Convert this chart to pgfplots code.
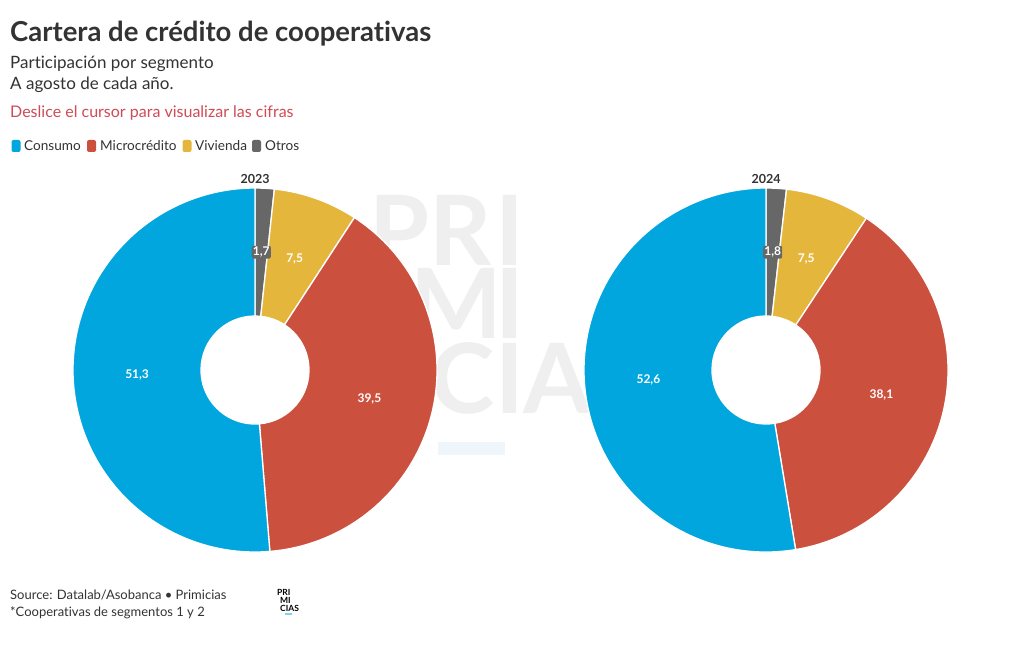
\documentclass[border=0pt]{standalone}
\usepackage{pgfplots}
\pgfplotsset{compat=1.18}
\usepackage{pgfplotstable}
\usepackage{fontspec}
\setmainfont{Lato}[Ligatures=NoCommon]

\definecolor{consumo}{HTML}{00A6DD}
\definecolor{micro}{HTML}{CB503E}
\definecolor{vivienda}{HTML}{E4B63C}
\definecolor{otros}{HTML}{676767}
\definecolor{txt}{HTML}{333333}
\definecolor{hint}{HTML}{CF4B55}
\definecolor{wm}{HTML}{EFEFEF}
\definecolor{wmbar}{HTML}{EEF5FB}

% share of each segment (%), clockwise from the top
\pgfplotstableread{
name value col
Otros 1.7 otros
Vivienda 7.5 vivienda
Microcredito 39.5 micro
Consumo 51.3 consumo
}\yeara
\pgfplotstableread{
name value col
Otros 1.8 otros
Vivienda 7.5 vivienda
Microcredito 38.1 micro
Consumo 52.6 consumo
}\yearb

\pgfkeys{/pgf/number format/.cd, use comma, fixed, precision=1, fixed zerofill, assume math mode=true}

\newcommand\donut[1]{%
  \def\acc{0}%
  \pgfplotsforeachungrouped \wi in {0,1,2,3}{%
    \pgfplotstablegetelem{\wi}{value}\of{#1}\let\wval\pgfplotsretval
    \pgfplotstablegetelem{\wi}{col}\of{#1}\let\wcol\pgfplotsretval
    \pgfmathsetmacro\as{90-3.6*\acc}%
    \pgfmathsetmacro\ae{90-3.6*(\acc+\wval)}%
    \pgfmathsetmacro\acc{\acc+\wval}%
    \edef\cmd{\noexpand\fill[\wcol, draw=white, line width=1.3pt, line join=round]
      (axis cs:{54*cos(\as)},{54*sin(\as)}) -- (axis cs:{182*cos(\as)},{182*sin(\as)})
      arc[start angle=\as, end angle=\ae, radius=182pt]
      -- (axis cs:{54*cos(\ae)},{54*sin(\ae)})
      arc[start angle=\ae, end angle=\as, radius=54pt] -- cycle;}%
    \cmd
  }%
  \def\acc{0}%
  \pgfplotsforeachungrouped \wi in {0,1,2,3}{%
    \pgfplotstablegetelem{\wi}{value}\of{#1}\let\wval\pgfplotsretval
    \pgfplotstablegetelem{\wi}{col}\of{#1}\let\wcol\pgfplotsretval
    \pgfmathsetmacro\am{90-3.6*(\acc+\wval/2)}%
    \pgfmathsetmacro\acc{\acc+\wval}%
    \edef\cmd{\noexpand\node[fill=\wcol, text=white, rounded corners=2pt, inner sep=1.2pt,
      font=\noexpand\fontsize{12}{14}\noexpand\selectfont\noexpand\bfseries]
      at (axis cs:{118*cos(\am)},{118*sin(\am)}) {\noexpand\pgfmathprintnumber{\wval}};}%
    \cmd
  }%
}

\begin{document}
\begin{tikzpicture}
\path[use as bounding box, fill=white] (0pt,0pt) rectangle (1020pt,-650pt);

% watermark
\begin{scope}[every node/.style={anchor=base, inner sep=0pt, text=wm,
    text height=70pt, text depth=0pt, font=\fontsize{97}{100}\selectfont\bfseries}]
  \node at (400pt,-265pt) {P}; \node at (461pt,-265pt) {R}; \node at (510pt,-265pt) {I};
  \node at (456pt,-338pt) {M}; \node at (510pt,-338pt) {I};
  \node at (463pt,-413pt) {C}; \node at (510pt,-413pt) {I}; \node at (557pt,-413pt) {A};
\end{scope}
\fill[wmbar] (438pt,-442pt) rectangle (505pt,-455pt);

% titles
\node[anchor=base west, inner sep=0pt, text=txt, font=\fontsize{27.5}{30}\selectfont\bfseries]
  at (10pt,-42pt) {Cartera de crédito de cooperativas};
\node[anchor=base west, inner sep=0pt, text=txt, font=\fontsize{17}{20}\selectfont]
  at (10pt,-69pt) {Participación por segmento};
\node[anchor=base west, inner sep=0pt, text=txt, font=\fontsize{17}{20}\selectfont]
  at (10pt,-90pt) {A agosto de cada año.};
\node[anchor=base west, inner sep=0pt, text=hint, font=\fontsize{16}{19}\selectfont]
  at (10pt,-118pt) {Deslice el cursor para visualizar las cifras};

% legend
\begin{scope}[every node/.style={anchor=base west, inner sep=0pt, text=txt,
    font=\fontsize{13.6}{16}\selectfont}]
  \fill[consumo, rounded corners=2pt] (11.5pt,-140pt) rectangle (20.5pt,-152pt);
  \node at (24pt,-150pt) {Consumo};
  \fill[micro, rounded corners=2pt] (87pt,-140pt) rectangle (96pt,-152pt);
  \node at (100pt,-150pt) {Microcrédito};
  \fill[vivienda, rounded corners=2pt] (182.5pt,-140pt) rectangle (191.5pt,-152pt);
  \node at (195pt,-150pt) {Vivienda};
  \fill[otros, rounded corners=2pt] (252pt,-140pt) rectangle (261pt,-152pt);
  \node at (265pt,-150pt) {Otros};
\end{scope}

% year labels
\node[anchor=base, inner sep=0pt, text=txt, font=\fontsize{12.5}{14}\selectfont\bfseries]
  at (255pt,-183pt) {2023};
\node[anchor=base, inner sep=0pt, text=txt, font=\fontsize{12.5}{14}\selectfont\bfseries]
  at (766pt,-183pt) {2024};

\begin{axis}[at={(255pt,-370pt)}, anchor=origin, x=1pt, y=1pt,
    xmin=-200, xmax=200, ymin=-200, ymax=200, hide axis, clip=false]
  \donut{\yeara}
\end{axis}
\begin{axis}[at={(766pt,-370pt)}, anchor=origin, x=1pt, y=1pt,
    xmin=-200, xmax=200, ymin=-200, ymax=200, hide axis, clip=false]
  \donut{\yearb}
\end{axis}

% footer
\node[anchor=base west, inner sep=0pt, text=txt, font=\fontsize{13}{15}\selectfont]
  at (10pt,-599pt) {Source: Datalab/Asobanca • Primicias};
\node[anchor=base west, inner sep=0pt, text=txt, font=\fontsize{13}{15}\selectfont]
  at (10pt,-616pt) {*Cooperativas de segmentos 1 y 2};

% small logo
\begin{scope}[every node/.style={anchor=base west, inner sep=0pt, text=black,
    font=\fontsize{8.5}{9}\selectfont\bfseries}]
  \node at (277pt,-595pt) {PRI};
  \node at (280pt,-603pt) {MI};
  \node at (280pt,-611pt) {CIAS};
\end{scope}
\fill[consumo!50] (285pt,-613pt) rectangle (292pt,-614.5pt);
\end{tikzpicture}
\end{document}
